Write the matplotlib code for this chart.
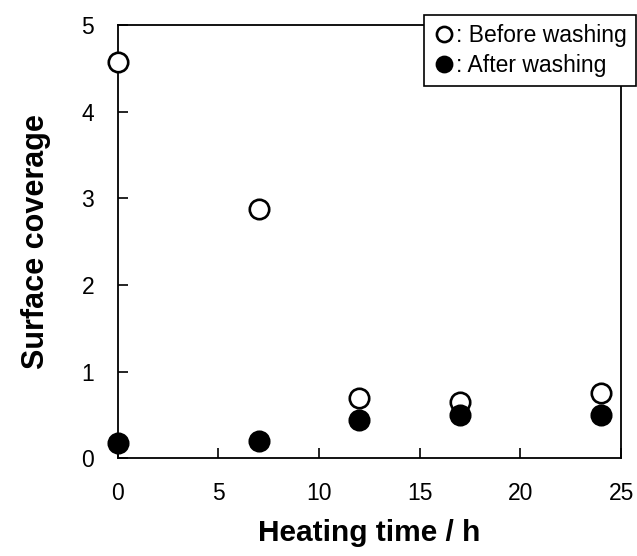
import matplotlib.pyplot as plt

plt.rcParams['font.family'] = ['Liberation Sans', 'DejaVu Sans']

# Heating time (h) and surface coverage before / after washing
time_h = [0, 7, 12, 17, 24]
before_washing = [4.57, 2.88, 0.70, 0.65, 0.75]
after_washing = [0.18, 0.20, 0.44, 0.50, 0.50]

fig = plt.figure(figsize=(6.37, 5.56), dpi=100)
ax = fig.add_axes([0.185, 0.176, 0.790, 0.779])

ax.plot(time_h, before_washing, 'o', ms=14, mfc='white', mec='black', mew=1.9,
        label=': Before washing', clip_on=False, zorder=3)
ax.plot(time_h, after_washing, 'o', ms=14, mfc='black', mec='black', mew=1.9,
        label=': After washing', clip_on=False, zorder=3)

ax.set_xlim(0, 25)
ax.set_ylim(0, 5)
ax.set_xticks(range(0, 26, 5))
ax.set_yticks(range(0, 6))
ax.tick_params(direction='in', length=7, width=1.2, labelsize=16.5, pad=17)
for s in ax.spines.values():
    s.set_linewidth(1.3)

ax.set_xlabel('Heating time / h', fontsize=21.5, fontweight='bold', labelpad=10)
ax.set_ylabel('Surface coverage', fontsize=22, fontweight='bold', labelpad=22)

leg = ax.legend(loc='upper right', bbox_to_anchor=(1.03, 1.023), fontsize=16.5,
                frameon=True, fancybox=False, edgecolor='black', framealpha=1,
                handlelength=0.9, handletextpad=0.1, markerscale=0.78,
                borderpad=0.4, labelspacing=0.3, borderaxespad=0)
leg.get_frame().set_linewidth(1.2)

fig.savefig('out.png', dpi=100)
